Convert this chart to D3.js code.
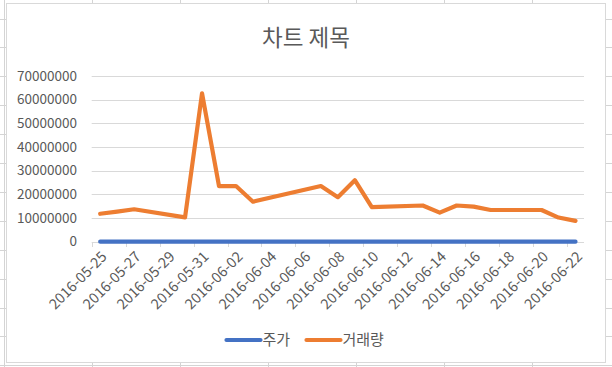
<!DOCTYPE html>
<html>
<head>
<meta charset="utf-8">
<script src="https://cdn.jsdelivr.net/npm/d3@7"></script>
<style>
  body { margin: 0; background: #fff; }
  svg { display: block; font-family: "Noto Sans CJK KR", "Noto Sans", sans-serif; }
</style>
</head>
<body>
<svg id="chart" width="612" height="367"></svg>
<script>
// trading days (weekends + 06-06 holiday are absent)
const dates = [
  "2016-05-25", "2016-05-26", "2016-05-27", "2016-05-30", "2016-05-31",
  "2016-06-01", "2016-06-02", "2016-06-03", "2016-06-07", "2016-06-08",
  "2016-06-09", "2016-06-10", "2016-06-13", "2016-06-14", "2016-06-15",
  "2016-06-16", "2016-06-17", "2016-06-20", "2016-06-21", "2016-06-22"
];
const volume = [
  11800000, 12700000, 13700000, 10300000, 62700000,
  23500000, 23500000, 16900000, 23500000, 18800000,
  26000000, 14600000, 15300000, 12300000, 15300000,
  14800000, 13400000, 13400000, 10200000, 8800000
];
const price = [
  3120, 3150, 3080, 2950, 3300,
  3260, 3240, 3200, 3270, 3210,
  3350, 3180, 3190, 3120, 3170,
  3160, 3140, 3130, 3090, 3060
];
const yTicks = [0, 10000000, 20000000, 30000000, 40000000, 50000000, 60000000, 70000000];
const seriesNames = ["주가", "거래량"];
const colors = ["#4472c4", "#ed7d31"];

const svg = d3.select("#chart");
const parse = d3.utcParse("%Y-%m-%d");
const fmt = d3.utcFormat("%Y-%m-%d");
const day = 24 * 3600 * 1000;

// sheet gridlines behind the chart object
const grid = svg.append("g").attr("stroke", "#d4d4d4").attr("stroke-width", 1);
[4.5, 92.5, 180.5, 268.5, 356.5, 444.5, 532.5].forEach(x => {
  grid.append("line").attr("x1", x).attr("x2", x).attr("y1", 0).attr("y2", 367);
});
d3.range(18.5, 367, 28.9).forEach(y => {
  grid.append("line").attr("x1", 0).attr("x2", 612).attr("y1", Math.round(y) + 0.5).attr("y2", Math.round(y) + 0.5);
});

// chart area
svg.append("rect")
  .attr("x", 6.5).attr("y", 3.5)
  .attr("width", 599).attr("height", 359)
  .attr("fill", "#fff")
  .attr("stroke", "#d9d9d9");

svg.append("text")
  .attr("x", 306).attr("y", 46)
  .attr("text-anchor", "middle")
  .attr("font-size", 22.5)
  .attr("fill", "#595959")
  .text("차트 제목");

const start = parse("2016-05-25");
const end = d3.utcDay.offset(parse("2016-06-22"), 1);
const x = d3.scaleUtc().domain([start, end]).range([91.7, 584]);
const y = d3.scaleLinear().domain([0, 70000000]).range([241.7, 76]);

// horizontal gridlines + y labels
const yAxis = svg.append("g");
yAxis.selectAll("line")
  .data(yTicks)
  .join("line")
  .attr("x1", 91.7).attr("x2", 584)
  .attr("y1", d => Math.round(y(d)) + 0.5)
  .attr("y2", d => Math.round(y(d)) + 0.5)
  .attr("stroke", "#d9d9d9");
yAxis.selectAll("text")
  .data(yTicks)
  .join("text")
  .attr("x", 77)
  .attr("y", d => y(d))
  .attr("dy", "0.35em")
  .attr("text-anchor", "end")
  .attr("font-size", 13.5)
  .attr("fill", "#595959")
  .text(d => d);

// x axis: ticks every 2 days from the start, labels centred on the day
const tickDates = d3.range(0, 29, 2).map(i => d3.utcDay.offset(start, i));
const xAxis = svg.append("g");
xAxis.selectAll("line")
  .data(tickDates)
  .join("line")
  .attr("x1", d => Math.round(x(d)) + 0.5)
  .attr("x2", d => Math.round(x(d)) + 0.5)
  .attr("y1", 242).attr("y2", 247)
  .attr("stroke", "#d9d9d9");
xAxis.selectAll("text")
  .data(tickDates)
  .join("text")
  .attr("transform", d => `translate(${x(new Date(d.getTime() + day / 2)) + 4},${254}) rotate(-45)`)
  .attr("dy", "0.35em")
  .attr("text-anchor", "end")
  .attr("font-size", 14.5)
  .attr("fill", "#595959")
  .text(d => fmt(d));

const mid = d => x(new Date(parse(d).getTime() + day / 2));
const line = d3.line().x(d => mid(d[0])).y(d => y(d[1]));

[price, volume].forEach((vals, i) => {
  svg.append("path")
    .datum(dates.map((d, j) => [d, vals[j]]))
    .attr("d", line)
    .attr("fill", "none")
    .attr("stroke", colors[i])
    .attr("stroke-width", 4.2)
    .attr("stroke-linejoin", "round")
    .attr("stroke-linecap", "round");
});

// legend
const legend = svg.append("g");
const legendPos = [{ x: 226.5, tx: 262.5 }, { x: 306.5, tx: 342.5 }];
seriesNames.forEach((name, i) => {
  legend.append("line")
    .attr("x1", legendPos[i].x).attr("x2", legendPos[i].x + 34)
    .attr("y1", 340).attr("y2", 340)
    .attr("stroke", colors[i])
    .attr("stroke-width", 4.2)
    .attr("stroke-linecap", "round");
  legend.append("text")
    .attr("x", legendPos[i].tx).attr("y", 340)
    .attr("dy", "0.35em")
    .attr("font-size", 15)
    .attr("fill", "#595959")
    .text(name);
});
</script>
</body>
</html>
